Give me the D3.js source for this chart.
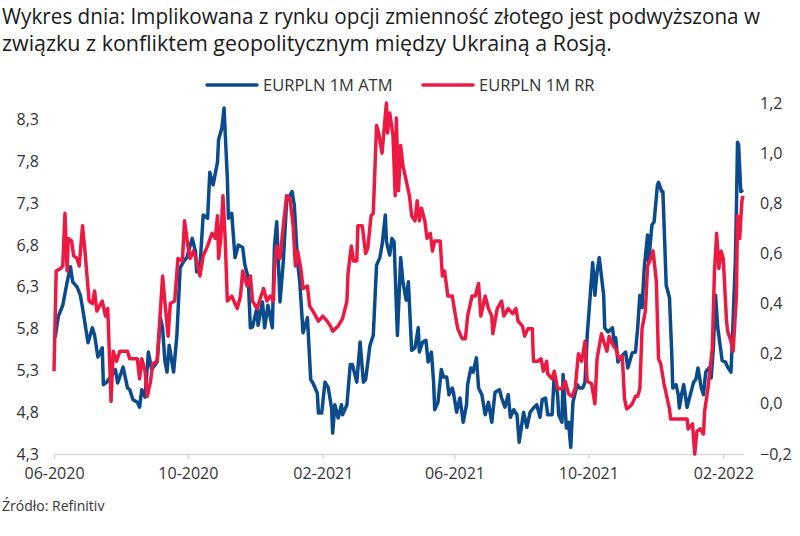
<!DOCTYPE html>
<html>
<head>
<meta charset="utf-8">
<script src="https://cdn.jsdelivr.net/npm/d3@7"></script>
<style>
  body { margin: 0; background: #fff; }
  svg { display: block; }
  .tick text { font-family: "Open Sans", sans-serif; fill: #333; }
</style>
</head>
<body>
<div id="chart"></div>
<script>
// EURPLN 1M ATM implied vol (left axis)
var atmDates = ["2020-06-02","2020-06-05","2020-06-09","2020-06-13","2020-06-16","2020-06-18","2020-06-22","2020-06-25","2020-06-27",
  "2020-07-02","2020-07-06","2020-07-08","2020-07-11","2020-07-15","2020-07-16","2020-07-19","2020-07-24","2020-07-27","2020-07-29",
  "2020-08-03","2020-08-07","2020-08-09","2020-08-12","2020-08-16","2020-08-18","2020-08-20","2020-08-23","2020-08-26","2020-08-29",
  "2020-09-03","2020-09-06","2020-09-08","2020-09-10","2020-09-12","2020-09-14","2020-09-18","2020-09-21","2020-09-24","2020-09-27","2020-09-30",
  "2020-10-05","2020-10-08","2020-10-09","2020-10-12","2020-10-15","2020-10-19","2020-10-21","2020-10-24","2020-10-28","2020-10-29",
  "2020-11-01","2020-11-03","2020-11-06","2020-11-07","2020-11-10","2020-11-13","2020-11-16","2020-11-20","2020-11-22","2020-11-25","2020-11-27","2020-11-29",
  "2020-12-03","2020-12-04","2020-12-08","2020-12-10","2020-12-13","2020-12-17","2020-12-19","2020-12-21","2020-12-24","2020-12-27","2020-12-30",
  "2021-01-04","2021-01-06","2021-01-09","2021-01-11","2021-01-14","2021-01-18","2021-01-21","2021-01-23","2021-01-27","2021-01-28","2021-01-31",
  "2021-02-03","2021-02-06","2021-02-09","2021-02-10","2021-02-12","2021-02-15","2021-02-18","2021-02-19","2021-02-23","2021-02-26","2021-02-28",
  "2021-03-04","2021-03-07","2021-03-10","2021-03-12","2021-03-16","2021-03-19","2021-03-22","2021-03-25","2021-03-27","2021-03-30","2021-03-31",
  "2021-04-03","2021-04-05","2021-04-07","2021-04-10","2021-04-13","2021-04-15","2021-04-18","2021-04-20","2021-04-23","2021-04-26","2021-04-29","2021-04-30",
  "2021-05-03","2021-05-06","2021-05-08","2021-05-11","2021-05-13","2021-05-14","2021-05-17","2021-05-20","2021-05-22","2021-05-25","2021-05-27","2021-05-30","2021-05-31",
  "2021-06-03","2021-06-06","2021-06-09","2021-06-12","2021-06-13","2021-06-16","2021-06-18","2021-06-21","2021-06-23","2021-06-26","2021-06-29",
  "2021-07-02","2021-07-05","2021-07-08","2021-07-12","2021-07-14","2021-07-17","2021-07-20","2021-07-22","2021-07-25","2021-07-28","2021-07-30",
  "2021-08-03","2021-08-06","2021-08-09","2021-08-12","2021-08-15","2021-08-18","2021-08-20","2021-08-23","2021-08-25","2021-08-29","2021-08-31",
  "2021-09-03","2021-09-04","2021-09-07","2021-09-08","2021-09-11","2021-09-13","2021-09-15","2021-09-17","2021-09-21","2021-09-23","2021-09-26","2021-09-28","2021-09-30",
  "2021-10-03","2021-10-05","2021-10-07","2021-10-09","2021-10-11","2021-10-15","2021-10-16","2021-10-19","2021-10-23","2021-10-25","2021-10-26","2021-10-28",
  "2021-11-01","2021-11-04","2021-11-06","2021-11-10","2021-11-13","2021-11-15","2021-11-17","2021-11-19","2021-11-21","2021-11-24","2021-11-25","2021-11-28","2021-11-30",
  "2021-12-03","2021-12-04","2021-12-07","2021-12-08","2021-12-11","2021-12-14","2021-12-16","2021-12-17","2021-12-20","2021-12-22","2021-12-23","2021-12-25","2021-12-27","2021-12-30",
  "2022-01-02","2022-01-05","2022-01-07","2022-01-09","2022-01-12","2022-01-14","2022-01-16","2022-01-19","2022-01-21","2022-01-23","2022-01-25","2022-01-27","2022-01-31",
  "2022-02-03","2022-02-05","2022-02-08","2022-02-09","2022-02-12","2022-02-13","2022-02-14","2022-02-15","2022-02-17","2022-02-19"];
var atmValues = [5.69,5.95,6.08,6.36,6.54,6.36,6.30,6.20,6.05,
  5.63,5.81,5.72,5.46,5.57,5.13,5.16,5.25,5.31,5.15,
  5.34,5.09,5.07,4.95,4.92,4.86,5.07,4.98,5.52,5.31,
  5.40,5.93,5.81,5.42,5.28,5.60,5.28,5.72,6.53,6.60,6.65,
  6.88,6.72,6.48,6.53,7.16,7.12,7.67,7.52,7.79,8.06,
  8.20,8.44,7.60,7.12,7.18,6.65,6.80,6.77,6.56,6.41,5.81,5.82,
  6.05,5.84,6.12,5.81,6.08,5.81,6.80,7.08,6.12,6.60,7.32,
  7.44,7.28,6.60,6.36,5.75,5.93,5.19,5.15,5.03,4.79,4.79,
  5.16,5.09,4.85,4.55,4.89,4.73,4.89,4.77,4.89,5.37,5.37,
  5.16,5.64,5.16,5.19,5.60,5.72,6.56,6.65,6.80,7.16,6.84,
  6.68,6.88,6.84,5.72,6.65,6.36,6.14,6.36,5.54,5.57,5.81,5.52,
  5.64,5.66,5.40,5.52,5.16,4.83,4.92,5.31,5.22,5.22,5.01,5.09,5.04,
  4.80,4.97,4.68,4.89,5.13,5.33,5.28,5.45,5.09,5.01,4.77,
  4.92,4.68,5.04,5.07,4.97,4.86,5.01,4.74,4.83,4.77,4.44,
  4.80,4.62,4.80,4.85,4.89,4.74,4.95,4.97,4.77,4.77,5.25,
  5.01,4.77,4.68,5.25,4.61,4.68,4.38,4.92,5.13,5.09,5.09,5.16,5.72,
  6.24,6.59,6.20,6.48,6.65,6.20,5.81,5.76,5.81,5.60,5.69,5.40,
  5.48,5.52,5.33,5.51,5.52,5.81,6.20,6.05,6.53,6.92,6.60,7.04,7.08,
  7.52,7.55,7.44,7.44,6.32,6.17,5.52,5.09,5.13,5.01,4.85,5.01,5.13,4.86,
  5.01,5.16,5.19,5.33,5.09,5.01,5.28,5.33,5.21,5.57,6.20,5.81,5.42,
  5.40,5.34,5.28,5.57,6.60,7.24,8.03,8.00,7.44,7.46];

// EURPLN 1M risk reversal (right axis)
var rrDates = ["2020-06-01","2020-06-03","2020-06-07","2020-06-09","2020-06-11","2020-06-13","2020-06-14","2020-06-17","2020-06-19","2020-06-22","2020-06-24","2020-06-27","2020-06-29",
  "2020-07-03","2020-07-06","2020-07-08","2020-07-10","2020-07-15","2020-07-18","2020-07-20","2020-07-23","2020-07-25","2020-07-28","2020-07-31",
  "2020-08-07","2020-08-09","2020-08-16","2020-08-18","2020-08-20","2020-08-23","2020-08-25","2020-08-28","2020-08-30",
  "2020-09-03","2020-09-08","2020-09-10","2020-09-13","2020-09-15","2020-09-19","2020-09-22","2020-09-26","2020-09-28",
  "2020-10-01","2020-10-03","2020-10-06","2020-10-09","2020-10-12","2020-10-15","2020-10-19","2020-10-23","2020-10-26","2020-10-28","2020-10-29","2020-10-31",
  "2020-11-02","2020-11-04","2020-11-06","2020-11-10","2020-11-15","2020-11-18","2020-11-20","2020-11-24","2020-11-27","2020-11-29",
  "2020-12-03","2020-12-09","2020-12-12","2020-12-15","2020-12-18","2020-12-19","2020-12-21","2020-12-24","2020-12-27","2020-12-30",
  "2021-01-02","2021-01-05","2021-01-07","2021-01-09","2021-01-12","2021-01-14","2021-01-18","2021-01-20","2021-01-23","2021-01-28",
  "2021-02-01","2021-02-05","2021-02-08","2021-02-10","2021-02-15","2021-02-19","2021-02-23","2021-02-24","2021-02-27",
  "2021-03-01","2021-03-04","2021-03-05","2021-03-09","2021-03-12","2021-03-14","2021-03-17","2021-03-19","2021-03-22","2021-03-24","2021-03-27","2021-03-29","2021-03-31",
  "2021-04-01","2021-04-03","2021-04-06","2021-04-08","2021-04-09","2021-04-11","2021-04-13","2021-04-15","2021-04-19","2021-04-21","2021-04-23","2021-04-26","2021-04-28","2021-04-30",
  "2021-05-02","2021-05-05","2021-05-07","2021-05-10","2021-05-12","2021-05-14","2021-05-19","2021-05-21","2021-05-23","2021-05-26","2021-05-30",
  "2021-06-02","2021-06-04","2021-06-08","2021-06-11","2021-06-13","2021-06-17","2021-06-20","2021-06-23","2021-06-25","2021-06-29",
  "2021-07-02","2021-07-05","2021-07-06","2021-07-10","2021-07-14","2021-07-16","2021-07-20","2021-07-24","2021-07-27","2021-07-29",
  "2021-08-02","2021-08-04","2021-08-07","2021-08-11","2021-08-12","2021-08-16","2021-08-19","2021-08-21","2021-08-24","2021-08-25","2021-08-29","2021-08-31",
  "2021-09-03","2021-09-07","2021-09-10","2021-09-13","2021-09-16","2021-09-19","2021-09-22","2021-09-25","2021-09-28","2021-09-30",
  "2021-10-04","2021-10-07","2021-10-09","2021-10-13","2021-10-15","2021-10-18","2021-10-20","2021-10-24","2021-10-26","2021-10-29",
  "2021-11-01","2021-11-03","2021-11-05","2021-11-08","2021-11-10","2021-11-13","2021-11-15","2021-11-17","2021-11-19","2021-11-22","2021-11-24","2021-11-26","2021-11-29",
  "2021-12-02","2021-12-04","2021-12-06","2021-12-09","2021-12-13","2021-12-14","2021-12-15","2021-12-25","2021-12-30","2021-12-31",
  "2022-01-04","2022-01-06","2022-01-08","2022-01-11","2022-01-14","2022-01-15","2022-01-18","2022-01-22","2022-01-24","2022-01-26","2022-01-28","2022-01-30",
  "2022-02-01","2022-02-04","2022-02-05","2022-02-08","2022-02-10","2022-02-13","2022-02-14","2022-02-16","2022-02-18","2022-02-19"];
var rrValues = [0.13,0.53,0.54,0.55,0.76,0.53,0.66,0.65,0.59,0.58,0.55,0.71,0.62,
  0.41,0.40,0.45,0.37,0.41,0.35,0.38,0.01,0.21,0.17,0.21,
  0.21,0.18,0.18,0.10,0.18,0.13,0.03,0.09,0.16,
  0.17,0.51,0.41,0.27,0.40,0.41,0.58,0.57,0.73,
  0.63,0.58,0.61,0.57,0.51,0.59,0.63,0.68,0.66,0.75,0.58,0.66,
  0.83,0.66,0.41,0.43,0.38,0.43,0.53,0.47,0.51,0.41,
  0.38,0.46,0.41,0.43,0.41,0.54,0.63,0.58,0.71,0.83,
  0.82,0.71,0.55,0.61,0.54,0.46,0.47,0.39,0.37,0.33,
  0.35,0.33,0.31,0.29,0.31,0.34,0.41,0.52,0.63,
  0.57,0.57,0.71,0.71,0.60,0.62,0.75,0.76,1.11,1.08,1.00,1.10,1.20,
  1.08,1.16,1.07,0.83,1.14,0.85,1.03,0.95,0.87,0.83,0.75,0.73,0.81,0.73,
  0.78,0.73,0.66,0.68,0.61,0.65,0.65,0.51,0.53,0.43,0.43,
  0.35,0.30,0.26,0.26,0.35,0.43,0.43,0.48,0.35,0.43,
  0.38,0.35,0.28,0.38,0.41,0.35,0.38,0.36,0.38,0.33,
  0.31,0.27,0.30,0.30,0.17,0.17,0.18,0.13,0.17,0.12,0.10,0.13,
  0.06,0.06,0.09,0.04,0.03,0.06,0.20,0.17,0.25,0.09,
  0.08,0.00,0.18,0.28,0.25,0.21,0.27,0.23,0.22,0.18,
  0.19,0.02,-0.02,-0.01,0.00,0.03,0.03,0.06,0.30,0.37,0.55,0.57,0.61,
  0.49,0.18,0.16,0.08,0.00,-0.02,-0.06,-0.06,-0.06,-0.10,
  -0.08,-0.20,-0.11,-0.10,-0.12,-0.03,0.06,0.22,0.53,0.68,0.54,0.61,
  0.58,0.33,0.29,0.25,0.21,0.43,0.75,0.66,0.81,0.83];

var leftTicks = [4.3, 4.8, 5.3, 5.8, 6.3, 6.8, 7.3, 7.8, 8.3];
var rightTicks = [-0.2, 0.0, 0.2, 0.4, 0.6, 0.8, 1.0, 1.2];
var xTicks = ["2020-06-01","2020-10-01","2021-02-01","2021-06-01","2021-10-01","2022-02-01"];
var titleLines = ["Wykres dnia: Implikowana z rynku opcji zmienność złotego jest podwyższona w",
  "związku z konfliktem geopolitycznym między Ukrainą a Rosją."];

var parse = d3.timeParse("%Y-%m-%d");
var comma = function(d) { return d3.format(".1f")(d).replace(".", ","); };

var W = 800, H = 536;
var blue = "#0b4b8c", red = "#ec1a43";

var svg = d3.select("#chart").append("svg")
    .attr("width", W).attr("height", H);

// title (condensed face in the original, squeezed to its width here)
svg.selectAll(".title")
    .data(titleLines)
  .enter().append("text")
    .attr("class", "title")
    .attr("x", 2)
    .attr("y", function(d, i) { return 24 + i * 27; })
    .attr("textLength", function(d, i) { return i == 0 ? 758 : 610; })
    .attr("lengthAdjust", "spacingAndGlyphs")
    .style("font-family", "'Open Sans', sans-serif")
    .style("font-size", "21px")
    .style("fill", "#1a1a1a")
    .text(function(d) { return d; });

var x = d3.scaleTime()
    .domain([parse("2020-06-01"), parse("2022-02-19")])
    .range([54, 743]);
var yL = d3.scaleLinear().domain([4.3, 8.5]).range([454, 103]);
var yR = d3.scaleLinear().domain([-0.2, 1.2]).range([454, 103]);

// x axis
var xAxis = svg.append("g")
    .attr("transform", "translate(0,454)")
    .call(d3.axisBottom(x)
      .tickValues(xTicks.map(parse))
      .tickFormat(d3.timeFormat("%m-%Y"))
      .tickSize(5)
      .tickSizeOuter(0)
      .tickPadding(9));
xAxis.select(".domain").attr("stroke", "#d9d9d9").attr("stroke-width", 1.5);
xAxis.selectAll(".tick line").attr("stroke", "#d9d9d9").attr("stroke-width", 1.5);
xAxis.selectAll(".tick text").style("font-size", "16px");

// left axis
var leftAxis = svg.append("g")
    .attr("transform", "translate(45,0)")
    .call(d3.axisLeft(yL).tickValues(leftTicks).tickFormat(comma).tickSize(0).tickPadding(6));
leftAxis.select(".domain").remove();
leftAxis.selectAll(".tick text").style("font-size", "16px");

// right axis
var rightAxis = svg.append("g")
    .attr("transform", "translate(754,0)")
    .call(d3.axisRight(yR).tickValues(rightTicks).tickFormat(comma).tickSize(0).tickPadding(6));
rightAxis.select(".domain").remove();
rightAxis.selectAll(".tick text").style("font-size", "16px");

// lines
var atm = atmDates.map(function(d, i) { return {date: parse(d), value: atmValues[i]}; });
var rr = rrDates.map(function(d, i) { return {date: parse(d), value: rrValues[i]}; });

svg.append("path")
    .datum(atm)
    .attr("fill", "none")
    .attr("stroke", blue)
    .attr("stroke-width", 3.5)
    .attr("stroke-linejoin", "round")
    .attr("d", d3.line().x(function(d) { return x(d.date); }).y(function(d) { return yL(d.value); }));

svg.append("path")
    .datum(rr)
    .attr("fill", "none")
    .attr("stroke", red)
    .attr("stroke-width", 3.5)
    .attr("stroke-linejoin", "round")
    .attr("d", d3.line().x(function(d) { return x(d.date); }).y(function(d) { return yR(d.value); }));

// legend
var legend = [{name: "EURPLN 1M ATM", color: blue, x: 207}, {name: "EURPLN 1M RR", color: red, x: 423}];
var lg = svg.selectAll(".legend")
    .data(legend)
  .enter().append("g")
    .attr("transform", function(d) { return "translate(" + d.x + ",85)"; });
lg.append("line")
    .attr("x1", 0).attr("x2", 50)
    .attr("stroke", function(d) { return d.color; })
    .attr("stroke-width", 3.5)
    .attr("stroke-linecap", "round");
lg.append("text")
    .attr("x", 56).attr("y", 6)
    .style("font-family", "'Open Sans', sans-serif")
    .style("font-size", "16.5px")
    .style("fill", "#333")
    .text(function(d) { return d.name; });

// source
svg.append("text")
    .attr("x", 2).attr("y", 511)
    .style("font-family", "'Open Sans', sans-serif")
    .style("font-size", "14px")
    .style("fill", "#333")
    .text("Źródło: Refinitiv");
</script>
</body>
</html>
